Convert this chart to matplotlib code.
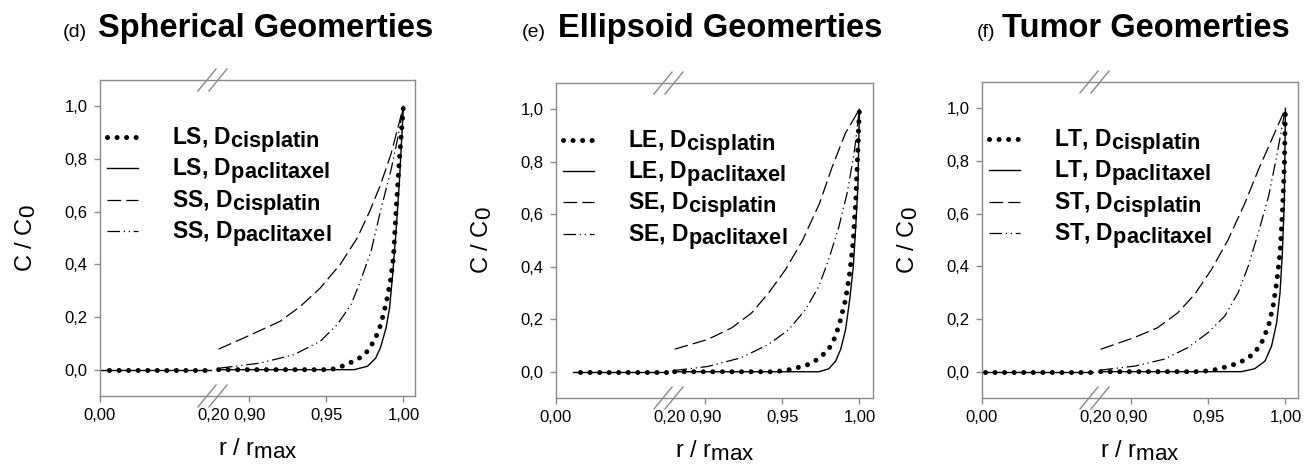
import numpy as np
import matplotlib.pyplot as plt
import matplotlib._mathtext as _mt

_mt.SHRINK_FACTOR = 0.95   # SigmaPlot draws near full-size subscripts

plt.rcParams['font.family'] = ['Liberation Sans', 'DejaVu Sans']
plt.rcParams['mathtext.fontset'] = 'custom'
plt.rcParams['mathtext.rm'] = 'Liberation Sans'
plt.rcParams['mathtext.bf'] = 'Liberation Sans:bold'
plt.rcParams['mathtext.it'] = 'Liberation Sans:italic'

# ---------------- data ----------------
panel_tags = ['(d)', '(e)', '(f)']
titles = ['Spherical Geomerties', 'Ellipsoid Geomerties', 'Tumor Geomerties']
large_tags = ['LS', 'LE', 'LT']
small_tags = ['SS', 'SE', 'ST']

xticks = [0.0, 0.2, 0.9, 0.95, 1.0]
xtick_labels = ['0,00', '0,20', '0,90', '0,95', '1,00']
yticks = [0.0, 0.2, 0.4, 0.6, 0.8, 1.0]
ytick_labels = ['0,0', '0,2', '0,4', '0,6', '0,8', '1,0']

# left part of the broken axis: large-geometry curves sit on zero
left_dot_start = [0.015, 0.042, 0.005]
left_line_start = [0.0, 0.03, 0.0]
left_end = 0.195

# (d) spherical
d_lcis_x = [0.88, 0.95, 0.956, 0.961, 0.9665, 0.972, 0.9767, 0.980, 0.9828, 0.9854, 0.9887, 0.9915, 0.9935, 0.9952, 0.9974, 1.0]
d_lcis_y = [0.0, 0.0, 0.004, 0.015, 0.029, 0.046, 0.07, 0.10, 0.133, 0.173, 0.25, 0.335, 0.424, 0.60, 0.80, 1.0]
d_lpac_x = [0.88, 0.968, 0.9767, 0.982, 0.985, 0.9887, 0.991, 0.993, 0.9952, 0.9974, 1.0]
d_lpac_y = [0.0, 0.0, 0.013, 0.044, 0.082, 0.158, 0.234, 0.36, 0.525, 0.715, 1.0]
d_scis_x = [0.880, 0.900, 0.920, 0.933, 0.946, 0.959, 0.970, 0.978, 0.985, 0.992, 1.0]
d_scis_y = [0.078, 0.13, 0.184, 0.24, 0.31, 0.40, 0.50, 0.60, 0.70, 0.82, 1.0]
d_spac_x = [0.881, 0.907, 0.929, 0.946, 0.957, 0.966, 0.972, 0.979, 0.985, 0.992, 0.996, 1.0]
d_spac_y = [0.006, 0.025, 0.057, 0.108, 0.171, 0.247, 0.335, 0.45, 0.60, 0.76, 0.87, 1.0]

# (e) ellipsoid
e_lcis_x = [0.88, 0.945, 0.956, 0.967, 0.9736, 0.980, 0.9845, 0.9878, 0.991, 0.9937, 0.996, 0.9976, 0.9987, 1.0]
e_lcis_y = [0.0, 0.0, 0.009, 0.028, 0.05, 0.085, 0.135, 0.2, 0.275, 0.376, 0.5, 0.654, 0.806, 1.0]
e_lpac_x = [0.88, 0.9736, 0.98, 0.9845, 0.9878, 0.991, 0.9937, 0.996, 0.9976, 0.999, 1.0]
e_lpac_y = [0.0, 0.0, 0.011, 0.04, 0.085, 0.16, 0.275, 0.40, 0.553, 0.705, 1.0]
e_scis_x = [0.88, 0.9015, 0.917, 0.930, 0.941, 0.952, 0.963, 0.974, 0.9823, 0.991, 1.0]
e_scis_y = [0.086, 0.123, 0.167, 0.224, 0.30, 0.389, 0.50, 0.64, 0.78, 0.91, 1.0]
e_spac_x = [0.88, 0.9015, 0.923, 0.941, 0.954, 0.965, 0.9736, 0.980, 0.9867, 0.992, 0.9965, 1.0]
e_spac_y = [0.005, 0.02, 0.053, 0.104, 0.16, 0.237, 0.325, 0.427, 0.553, 0.68, 0.83, 1.0]

# (f) tumor
f_lcis_x = [0.88, 0.945, 0.9562, 0.967, 0.9747, 0.980, 0.9845, 0.989, 0.992, 0.9943, 0.9965, 0.998, 0.9993, 1.0]
f_lcis_y = [0.0, 0.0, 0.009, 0.028, 0.047, 0.072, 0.11, 0.173, 0.249, 0.337, 0.45, 0.60, 0.78, 1.0]
f_lpac_x = [0.88, 0.9714, 0.980, 0.9867, 0.991, 0.9943, 0.9965, 0.998, 0.9993, 1.0]
f_lpac_y = [0.0, 0.0, 0.011, 0.04, 0.097, 0.186, 0.30, 0.45, 0.65, 1.0]
f_scis_x = [0.880, 0.9017, 0.917, 0.930, 0.941, 0.952, 0.9627, 0.9737, 0.9824, 0.991, 0.9976, 1.0]
f_scis_y = [0.085, 0.129, 0.167, 0.223, 0.293, 0.388, 0.50, 0.64, 0.766, 0.88, 0.968, 1.0]
f_spac_x = [0.88, 0.902, 0.921, 0.9366, 0.9497, 0.9606, 0.9693, 0.9758, 0.9824, 0.989, 0.9943, 1.0]
f_spac_y = [0.006, 0.021, 0.047, 0.091, 0.148, 0.211, 0.30, 0.40, 0.527, 0.665, 0.817, 1.0]

curves = [
    (d_lcis_x, d_lcis_y, d_lpac_x, d_lpac_y, d_scis_x, d_scis_y, d_spac_x, d_spac_y),
    (e_lcis_x, e_lcis_y, e_lpac_x, e_lpac_y, e_scis_x, e_scis_y, e_spac_x, e_spac_y),
    (f_lcis_x, f_lcis_y, f_lpac_x, f_lpac_y, f_scis_x, f_scis_y, f_spac_x, f_spac_y),
]

# ---------------- broken x axis as a piecewise scale ----------------
BRK_LO, BRK_HI = 0.2, 0.877
LEFT_PX, RIGHT_PX = 114.0, 77.0 / 0.05


def fwd(x):
    x = np.asarray(x, dtype=float)
    return np.where(x <= BRK_LO, x / BRK_LO * LEFT_PX,
                    np.where(x >= BRK_HI, LEFT_PX + (x - BRK_HI) * RIGHT_PX,
                             LEFT_PX + (x - BRK_LO) * 1e-3))


def inv(u):
    u = np.asarray(u, dtype=float)
    return np.where(u <= LEFT_PX, u / LEFT_PX * BRK_LO, BRK_HI + (u - LEFT_PX) / RIGHT_PX)


W, H = 1308, 475
fig = plt.figure(figsize=(W / 100, H / 100), dpi=100)

# axes boxes in pixels: left, right, top, bottom
boxes = [(100, 415, 80, 396), (556, 873, 83, 398), (982, 1298, 82, 398)]
tag_x = [63, 522, 977]
title_x = [98, 558, 1002]

GRAY = '#8a8a8a'
DOT = (0, (0.01, 1.9))
DASH = (0, (11, 4))
DASHDOT2 = (0, (10, 3, 1, 3, 1, 3))
DOT_LW = 3.6

for i in range(3):
    l, r, t, b = boxes[i]
    ax = fig.add_axes([l / W, 1 - b / H, (r - l) / W, (b - t) / H])
    ax.set_xscale('function', functions=(fwd, inv))
    ax.set_xlim(0, float(inv(r - l)))
    ax.set_ylim(-0.1, 1.1)

    lcx, lcy, lpx, lpy, scx, scy, spx, spy = curves[i]
    lt, st = large_tags[i], small_tags[i]

    # left part
    ax.plot([left_line_start[i], left_end], [0, 0], color='black', lw=1.0)
    ax.plot([left_dot_start[i], left_end], [0, 0], color='black', lw=DOT_LW,
            linestyle=DOT, dash_capstyle='round')

    h1, = ax.plot(lcx, lcy, color='black', lw=DOT_LW, linestyle=DOT, dash_capstyle='round',
                  label=lt + r', D$_{\mathbf{cisplatin}}$')
    h2, = ax.plot(lpx, lpy, color='black', lw=1.0, linestyle='-',
                  label=lt + r', D$_{\mathbf{paclitaxel}}$')
    h3, = ax.plot(scx, scy, color='black', lw=0.9, linestyle=DASH,
                  label=st + r', D$_{\mathbf{cisplatin}}$')
    h4, = ax.plot(spx, spy, color='black', lw=0.9, linestyle=DASHDOT2,
                  label=st + r', D$_{\mathbf{paclitaxel}}$')

    ax.legend(handles=[h1, h2, h3, h4], loc='upper left',
              bbox_to_anchor=(7 / (r - l), 0.855), frameon=False,
              prop={'family': 'Liberation Sans', 'weight': 'bold', 'size': 16.5},
              handlelength=1.35, handletextpad=1.5, labelspacing=0.05,
              borderpad=0, borderaxespad=0)

    ax.set_xticks(xticks)
    ax.set_xticklabels(xtick_labels)
    ax.set_yticks(yticks)
    ax.set_yticklabels(ytick_labels)
    ax.minorticks_off()
    ax.tick_params(direction='out', length=4, width=1, color=GRAY, labelsize=12, pad=5)
    ax.xaxis.get_major_ticks()[1].tick1line.set_visible(False)
    for s in ax.spines.values():
        s.set_color(GRAY)
        s.set_linewidth(1.0)

    ax.set_ylabel('C / C$_0$', fontsize=17)
    ax.yaxis.set_label_coords(-62 / (r - l), 0.5)
    ax.set_xlabel(r'r / r$_{\rm max}$', fontsize=17)
    ax.xaxis.set_label_coords(0.5, -40 / (b - t))

    # break marks on top and bottom spines
    xb = LEFT_PX / (r - l)
    dx, dy = 9 / (r - l), 11 / (b - t)
    for yb in (0.0, 1.0):
        for off in (-7 / (r - l), 4 / (r - l)):
            ax.plot([xb + off - dx, xb + off + dx], [yb - dy, yb + dy], color=GRAY,
                    lw=1.0, transform=ax.transAxes, clip_on=False)

    fig.text(tag_x[i] / W, 1 - 37 / H, panel_tags[i], fontsize=14, va='baseline')
    fig.text(title_x[i] / W, 1 - 37 / H, titles[i], fontsize=23.5, fontweight='bold',
             va='baseline')

fig.savefig('out.png', dpi=100)
